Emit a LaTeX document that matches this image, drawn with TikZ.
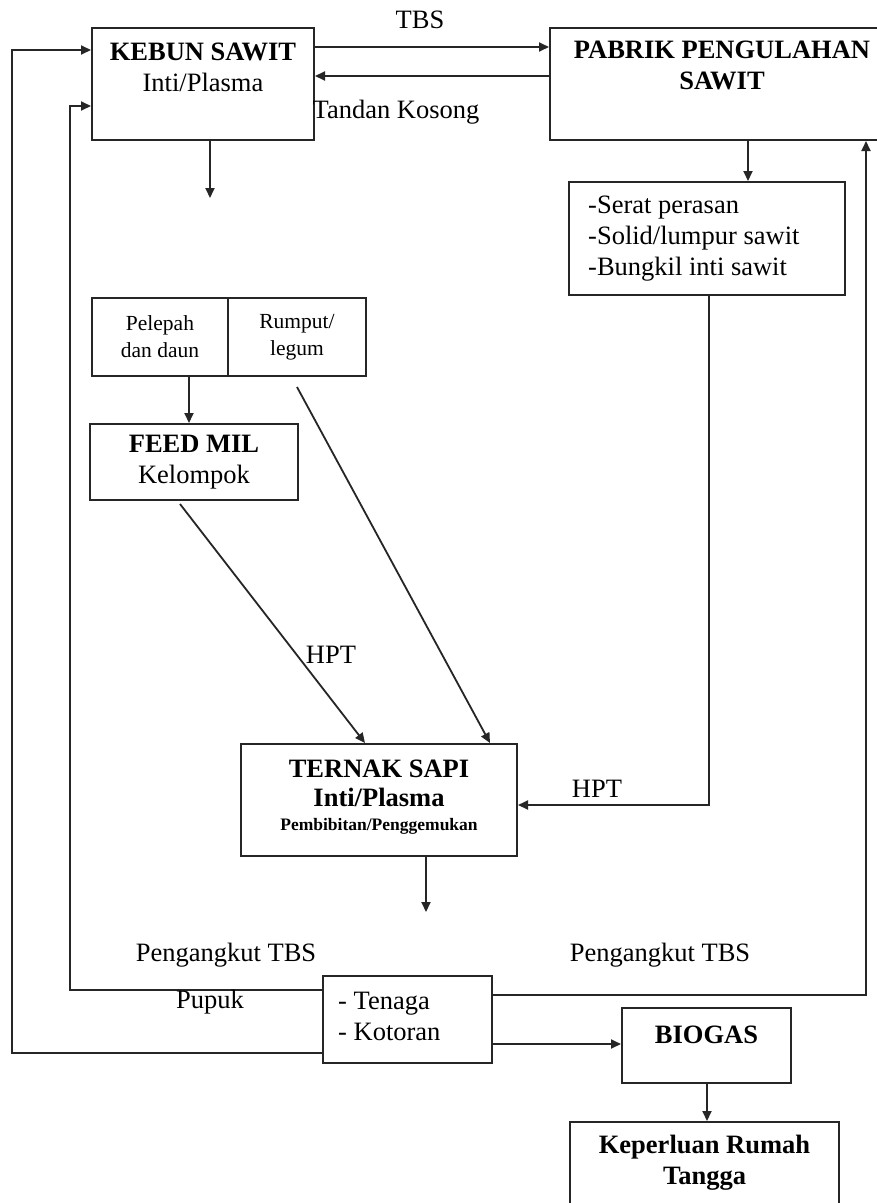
\documentclass[tikz,border=0pt]{standalone}
\usepackage{fontspec}
\setmainfont{Liberation Serif}
\usetikzlibrary{arrows.meta}
\begin{document}
\begin{tikzpicture}[x=1pt,y=-1pt,
  box/.style={draw=black!85,line width=2pt,rectangle,inner sep=0pt},
  txt/.style={inner sep=0pt,align=center,font=\fontsize{26.5}{31}\selectfont},
  lbl/.style={inner sep=0pt,font=\fontsize{26.5}{31}\selectfont},
  small/.style={inner sep=0pt,align=center,font=\fontsize{21.5}{27}\selectfont},
  conn/.style={draw=black!85,line width=1.8pt},
  arr/.style={conn,-{Triangle[length=10pt,width=9pt]}}]
\useasboundingbox[fill=white] (0,0) rectangle (877,1203);

% boxes
\node[box,minimum width=222pt,minimum height=112pt] (kebun) at (203,84) {};
\node[txt] (kebuntxt) at (203,67) {\textbf{KEBUN SAWIT}\\Inti/Plasma};
\node[box,minimum width=335pt,minimum height=112pt] (pabrik) at (717.5,84) {};
\node[txt] (pabriktxt) at (722,65) {\textbf{PABRIK PENGULAHAN}\\\textbf{SAWIT}};
\node[box,minimum width=276pt,minimum height=113pt] (produk) at (707,238.5) {};
\node[txt,anchor=west,align=left] (produktxt) at (588,239)
  {-Serat perasan\\-Solid/lumpur sawit\\-Bungkil inti sawit};
\node[box,small,minimum width=136pt,minimum height=78pt] (pelepah) at (160,337) {Pelepah\\dan daun};
\node[box,small,minimum width=138pt,minimum height=78pt] (rumput) at (297,337) {Rumput/\\legum};
\node[box,txt,minimum width=208pt,minimum height=76pt] (feedmil) at (194,462) {\textbf{FEED MIL}\\Kelompok};
\node[box,minimum width=276pt,minimum height=112pt] (ternak) at (379,800) {};
\node[txt] (ternaktxt) at (379,797) {\textbf{TERNAK SAPI}\\[-2pt]\textbf{Inti/Plasma}\\[-7pt]{\fontsize{17.5}{19}\selectfont\textbf{Pembibitan/Penggemukan}}};
\node[box,minimum width=169pt,minimum height=87pt] (tenaga) at (407.5,1019.5) {};
\node[txt,anchor=west,align=left] (tenagatxt) at (338,1016) {- Tenaga\\- Kotoran};
\node[box,minimum width=169pt,minimum height=75pt] (biogas) at (706.5,1045.5) {};
\node[txt] (biogastxt) at (706.5,1035) {\textbf{BIOGAS}};
\node[box,minimum width=269pt,minimum height=93pt] (keperluan) at (704.5,1168.5) {};
\node[txt] (keperluantxt) at (704.5,1163) {\textbf{Keperluan Rumah}\\\textbf{Tangga}};

% connectors
\draw[arr] (kebun.east |- 0,47) -- (pabrik.west |- 0,47);
\node[lbl] (tbs) at (420,20) {TBS};
\draw[arr] (pabrik.west |- 0,76) -- (kebun.east |- 0,76);
\node[lbl] (tandan) at (396,112) {Tandan Kosong};
\coordinate (kebunout) at (210,198);
\draw[arr] (kebun.south -| kebunout) -- (kebunout);
\draw[arr] (pabrik.south -| 748,0) -- (produk.north -| 748,0);
\draw[arr] (produk.south -| 709,0) |- (ternak.east |- 0,805);
\node[lbl] (hpt2) at (597,789) {HPT};
\draw[arr] (pelepah.south -| 189,0) -- (feedmil.north -| 189,0);
\draw[arr] ([yshift=-3pt]feedmil.south -| 180,0) -- (ternak.north -| 365,0);
\draw[arr] ([yshift=-10pt]rumput.south -| 297,0) -- (ternak.north -| 490,0);
\node[lbl] (hpt1) at (331,655) {HPT};
\coordinate (ternakout) at (426,912);
\draw[arr] (ternak.south -| ternakout) -- (ternakout);
\draw[arr] (tenaga.west |- 0,990) -| (70,106) -- (kebun.west |- 0,106);
\draw[arr] (tenaga.west |- 0,1053) -| (12,50) -- (kebun.west |- 0,50);
\draw[arr] (tenaga.east |- 0,995) -| (pabrik.south -| 866,0);
\draw[arr] (tenaga.east |- 0,1044) -- (biogas.west |- 0,1044);
\draw[arr] (biogas.south -| 707,0) -- (keperluan.north -| 707,0);
\node[lbl] (angkut1) at (226,955) {Pengangkut TBS};
\node[lbl] (angkut2) at (660,955) {Pengangkut TBS};
\node[lbl] (pupuk) at (210,1002) {Pupuk};
\end{tikzpicture}
\end{document}
